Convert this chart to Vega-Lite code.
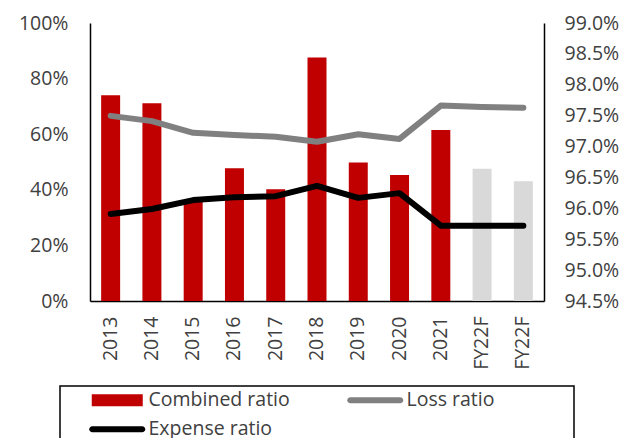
{
  "$schema": "https://vega.github.io/schema/vega-lite/v6.json",
  "width": 454,
  "height": 278,
  "autosize": {"type": "none"},
  "padding": {"left": 90, "top": 23, "right": 93, "bottom": 137},
  "background": "white",
  "config": {
    "view": {"stroke": null},
    "font": "Open Sans",
    "axis": {"labelFont": "Open Sans", "labelFontSize": 19.5, "labelColor": "#404040", "domainColor": "#000000", "domainWidth": 1.5, "ticks": false, "grid": false, "title": null}
  },
  "data": {
    "values": [
      {"period": "2013", "series": "Combined ratio", "value": 0.9783, "forecast": false},
      {"period": "2014", "series": "Combined ratio", "value": 0.9770, "forecast": false},
      {"period": "2015", "series": "Combined ratio", "value": 0.9611, "forecast": false},
      {"period": "2016", "series": "Combined ratio", "value": 0.9665, "forecast": false},
      {"period": "2017", "series": "Combined ratio", "value": 0.9631, "forecast": false},
      {"period": "2018", "series": "Combined ratio", "value": 0.9844, "forecast": false},
      {"period": "2019", "series": "Combined ratio", "value": 0.9674, "forecast": false},
      {"period": "2020", "series": "Combined ratio", "value": 0.9654, "forecast": false},
      {"period": "2021", "series": "Combined ratio", "value": 0.9727, "forecast": false},
      {"period": "FY22F", "series": "Combined ratio", "value": 0.9664, "forecast": true},
      {"period": "FY22F_2", "series": "Combined ratio", "value": 0.9644, "forecast": true},
      {"period": "2013", "series": "Loss ratio", "value": 0.666, "forecast": false},
      {"period": "2014", "series": "Loss ratio", "value": 0.647, "forecast": false},
      {"period": "2015", "series": "Loss ratio", "value": 0.605, "forecast": false},
      {"period": "2016", "series": "Loss ratio", "value": 0.597, "forecast": false},
      {"period": "2017", "series": "Loss ratio", "value": 0.591, "forecast": false},
      {"period": "2018", "series": "Loss ratio", "value": 0.573, "forecast": false},
      {"period": "2019", "series": "Loss ratio", "value": 0.600, "forecast": false},
      {"period": "2020", "series": "Loss ratio", "value": 0.583, "forecast": false},
      {"period": "2021", "series": "Loss ratio", "value": 0.703, "forecast": false},
      {"period": "FY22F", "series": "Loss ratio", "value": 0.698, "forecast": true},
      {"period": "FY22F_2", "series": "Loss ratio", "value": 0.695, "forecast": true},
      {"period": "2013", "series": "Expense ratio", "value": 0.313, "forecast": false},
      {"period": "2014", "series": "Expense ratio", "value": 0.331, "forecast": false},
      {"period": "2015", "series": "Expense ratio", "value": 0.363, "forecast": false},
      {"period": "2016", "series": "Expense ratio", "value": 0.373, "forecast": false},
      {"period": "2017", "series": "Expense ratio", "value": 0.377, "forecast": false},
      {"period": "2018", "series": "Expense ratio", "value": 0.414, "forecast": false},
      {"period": "2019", "series": "Expense ratio", "value": 0.371, "forecast": false},
      {"period": "2020", "series": "Expense ratio", "value": 0.388, "forecast": false},
      {"period": "2021", "series": "Expense ratio", "value": 0.271, "forecast": false},
      {"period": "FY22F", "series": "Expense ratio", "value": 0.271, "forecast": true},
      {"period": "FY22F_2", "series": "Expense ratio", "value": 0.271, "forecast": true}
    ]
  },
  "encoding": {
    "x": {
      "field": "period", "type": "nominal", "sort": null,
      "scale": {"paddingInner": 0.54, "paddingOuter": 0.27},
      "axis": {"labelAngle": -90, "labelPadding": 15, "labelExpr": "split(datum.label, '_')[0]"}
    }
  },
  "layer": [
    {
      "transform": [{"filter": "datum.series === 'Combined ratio'"}],
      "mark": {"type": "bar"},
      "encoding": {
        "y": {"field": "value", "type": "quantitative", "scale": {"domain": [0.945, 0.99], "zero": false, "nice": false},
          "axis": {"orient": "right", "format": ".1%", "values": [0.945, 0.95, 0.955, 0.96, 0.965, 0.97, 0.975, 0.98, 0.985, 0.99], "labelPadding": 20}},
        "y2": {"datum": 0.945},
        "color": {
          "condition": {"test": "datum.forecast", "value": "#D9D9D9"},
          "field": "series", "type": "nominal",
          "scale": {"domain": ["Combined ratio", "Loss ratio", "Expense ratio"], "range": ["#C00000", "#808080", "#000000"]},
          "legend": {
            "title": " ", "titleOrient": "right", "titlePadding": 76, "titleColor": "transparent",
            "orient": "none", "legendX": -30, "legendY": 363, "direction": "horizontal", "columns": 2,
            "padding": 4, "strokeColor": "#000000", "fillColor": "white",
            "labelFont": "Open Sans", "labelFontSize": 19.5, "labelColor": "#404040", "labelLimit": 300,
            "symbolSize": 100, "symbolOffset": 43.5, "labelOffset": 21.5, "columnPadding": 32, "rowPadding": 8.5,
            "encode": {
              "legend": {"update": {"strokeWidth": {"value": 1.5}}},
              "symbols": {"update": {
                "shape": {"signal": "datum.value === 'Combined ratio' ? 'M-5.1,-1.2H5.1V1.2H-5.1Z' : 'M-5,-0.6H5A0.6,0.6 0 0 1 5,0.6H-5A0.6,0.6 0 0 1 -5,-0.6Z'"},
                "size": {"value": 100},
                "fill": {"signal": "datum.value === 'Combined ratio' ? '#C00000' : (datum.value === 'Loss ratio' ? '#808080' : '#000000')"},
                "stroke": {"value": "transparent"},
                "strokeWidth": {"value": 0},
                "opacity": {"value": 1}
              }}
            }
          }
        }
      }
    },
    {
      "transform": [{"filter": "datum.series !== 'Combined ratio'"}],
      "mark": {"type": "line", "strokeWidth": 6, "strokeCap": "round", "strokeJoin": "round"},
      "encoding": {
        "y": {"field": "value", "type": "quantitative", "scale": {"domain": [0, 1], "nice": false},
          "axis": {"orient": "left", "format": ".0%", "values": [0, 0.2, 0.4, 0.6, 0.8, 1], "labelPadding": 22}},
        "color": {"field": "series", "type": "nominal"}
      }
    }
  ],
  "resolve": {"scale": {"y": "independent"}, "axis": {"y": "independent"}}
}
